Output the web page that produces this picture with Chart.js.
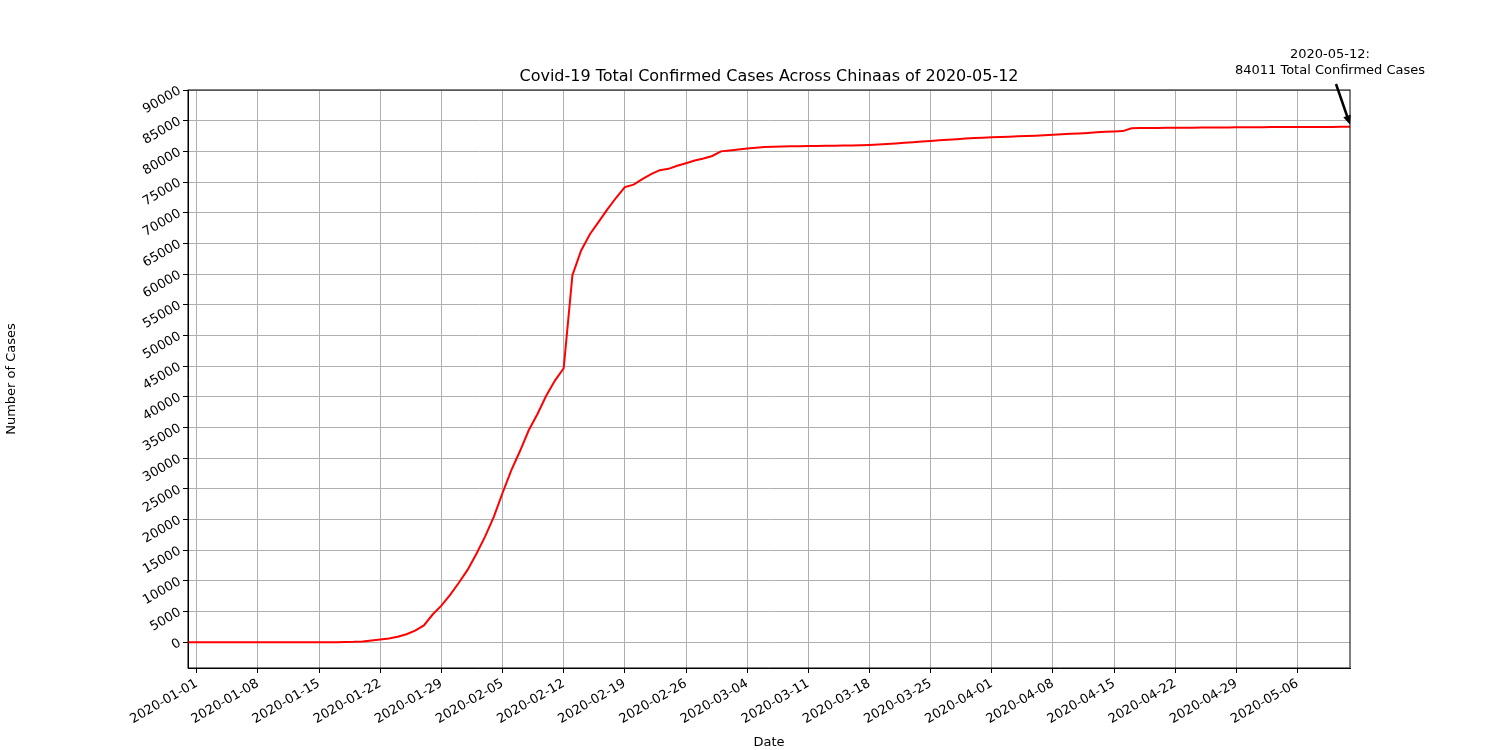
<!DOCTYPE html>
<html>
<head>
<meta charset="utf-8">
<script src="https://cdn.jsdelivr.net/npm/chart.js@4"></script>
<style>
  body { margin: 0; background: #fff; }
  #wrap { width: 1500px; height: 750px; }
</style>
</head>
<body>
<div id="wrap"><canvas id="covidChart"></canvas></div>
<script>
// first day of the series
const startDate = new Date(Date.UTC(2019, 11, 31));

// cumulative confirmed cases, one per day from 2019-12-31 to 2020-05-12
const zeros = [0, 0, 0, 0, 0, 0, 0, 0, 0, 0, 0, 0, 0, 0, 0, 0, 0, 0];
const janCases = [40, 60, 120, 300, 450, 600, 900, 1300, 1900, 2744, 4515, 5974, 7711, 9692];
const febCases = [11791, 14380, 17205, 20438, 24324, 28018, 31161, 34546, 37198, 40171, 42638, 44653,
  59804, 63851, 66492, 68500, 70548, 72436, 74185, 74576, 75465, 76288, 76936, 77150, 77658, 78064,
  78497, 78824, 79251];
const marCases = [80000, 80150, 80300, 80450, 80600, 80700, 80750, 80800, 80820, 80840, 80860, 80880,
  80900, 80920, 80940, 80960, 80990, 81030, 81100, 81200, 81300, 81400, 81500, 81600, 81700, 81800,
  81900, 81990, 82080, 82160, 82230];
const aprCases = [82290, 82350, 82400, 82450, 82500, 82560, 82620, 82690, 82770, 82850, 82930, 83010,
  83100, 83200, 83250, 83300, 83750, 83800, 83810, 83820, 83830, 83840, 83850, 83860, 83870, 83880,
  83890, 83900, 83910, 83920];
const mayCases = [83930, 83940, 83950, 83960, 83965, 83970, 83975, 83980, 83985, 83990, 84000, 84011];
const cases = [].concat(zeros, janCases, febCases, marCases, aprCases, mayCases);

// y tick values
const yTicks = [];
for (let v = 0; v <= 90000; v += 5000) yTicks.push(v);

function dayLabel(i) {
  const d = new Date(startDate.getTime() + i * 86400000);
  return d.toISOString().slice(0, 10);
}

const points = cases.map((c, i) => ({ x: i, y: c }));
const lastIdx = cases.length - 1;
const font = { family: "DejaVu Sans", size: 13 };

// title and annotation drawn on top
const extras = {
  id: "extras",
  afterDraw(chart) {
    const { ctx, chartArea, scales } = chart;
    ctx.save();
    ctx.fillStyle = "#000";
    ctx.font = "16px DejaVu Sans";
    ctx.textAlign = "center";
    ctx.textBaseline = "bottom";
    ctx.fillText("Covid-19 Total Confirmed Cases Across Chinaas of 2020-05-12",
      (chartArea.left + chartArea.right) / 2, chartArea.top - 5);

    const px = scales.x.getPixelForValue(lastIdx);
    const py = scales.y.getPixelForValue(cases[lastIdx]);
    ctx.font = "13px DejaVu Sans";
    ctx.fillText(dayLabel(lastIdx) + ":", px - 20, 61);
    ctx.fillText(cases[lastIdx] + " Total Confirmed Cases", px - 20, 77);
    // arrow
    const sx = px - 14, sy = 84;
    ctx.strokeStyle = "#000";
    ctx.lineWidth = 2.5;
    ctx.beginPath();
    ctx.moveTo(sx, sy);
    ctx.lineTo(px - 2, py - 8);
    ctx.stroke();
    const ang = Math.atan2(py - 2 - sy, px - sx);
    ctx.beginPath();
    ctx.moveTo(px, py - 2);
    ctx.lineTo(px - 10 * Math.cos(ang - 0.4), py - 2 - 10 * Math.sin(ang - 0.4));
    ctx.lineTo(px - 10 * Math.cos(ang + 0.4), py - 2 - 10 * Math.sin(ang + 0.4));
    ctx.closePath();
    ctx.fillStyle = "#000";
    ctx.fill();
    ctx.restore();
  }
};

new Chart(document.getElementById("covidChart"), {
  type: "line",
  data: {
    datasets: [{
      data: points,
      borderColor: "#ff0000",
      borderWidth: 2,
      pointRadius: 0,
      tension: 0,
      fill: false
    }]
  },
  options: {
    responsive: true,
    maintainAspectRatio: false,
    animation: false,
    layout: { padding: { left: 0, right: 150, top: 90, bottom: 0 } },
    plugins: { legend: { display: false }, tooltip: { enabled: false } },
    scales: {
      x: {
        type: "linear",
        min: 0,
        max: lastIdx,
        afterBuildTicks(scale) {
          const t = [];
          for (let i = 1; i <= lastIdx; i += 7) t.push({ value: i });
          scale.ticks = t;
        },
        afterFit(scale) { scale.height = 82; },
        ticks: {
          color: "#000",
          font: font,
          minRotation: 30,
          maxRotation: 30,
          callback: (v) => dayLabel(v)
        },
        grid: { color: "#b0b0b0", tickColor: "#000", tickLength: 5 },
        border: { color: "#000" },
        title: { display: true, text: "Date", color: "#000", font: font, padding: 0 }
      },
      y: {
        min: -4200,
        max: 90000,
        afterBuildTicks(scale) { scale.ticks = yTicks.map((v) => ({ value: v })); },
        afterFit(scale) { scale.width = 188; },
        ticks: {
          color: "#000",
          font: font,
          minRotation: 30,
          maxRotation: 30,
          callback: (v) => String(v)
        },
        grid: { color: "#b0b0b0", tickColor: "#000", tickLength: 5 },
        border: { color: "#000" },
        title: { display: true, text: "Number of Cases", color: "#000", font: font }
      }
    }
  },
  plugins: [extras, {
    id: "frame",
    afterDraw(chart) {
      const a = chart.chartArea, ctx = chart.ctx;
      ctx.save();
      ctx.strokeStyle = "#000";
      ctx.lineWidth = 1;
      ctx.strokeRect(a.left, a.top, a.right - a.left, a.bottom - a.top);
      ctx.restore();
    }
  }]
});
</script>
</body>
</html>
